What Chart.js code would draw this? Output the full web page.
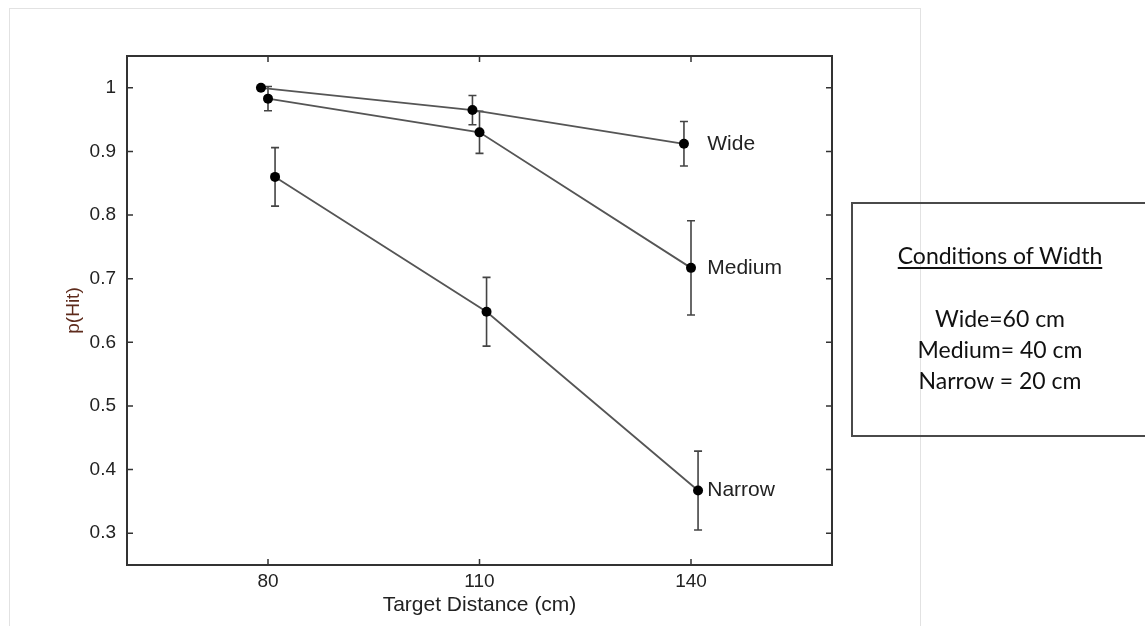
<!DOCTYPE html>
<html>
<head>
<meta charset="utf-8">
<title>p(Hit) by target distance</title>
<script src="https://cdn.jsdelivr.net/npm/chart.js@4.4.0/dist/chart.umd.min.js"></script>
<style>
  body { margin: 0; background: #fff; }
  #wrap { position: relative; width: 1145px; height: 626px; overflow: hidden; }
  #frame { position: absolute; left: 9px; top: 8px; width: 910px; height: 700px; border: 1px solid #e2e2e2; }
  #plot { position: absolute; left: 0; top: 0; }
  #cond {
    position: absolute; left: 851px; top: 202px; width: 300px; height: 235px;
    border: 2px solid #4a4a4a; box-sizing: border-box;
    font-family: Lato, "Open Sans", sans-serif; font-size: 23px; color: #111;
  }
  #cond .head { position: absolute; left: 0; width: 294px; top: 37px; text-align: center; text-decoration: underline; text-underline-offset: 3px; }
  #cond .rows { position: absolute; left: 0; width: 294px; top: 99px; text-align: center; line-height: 31px; }
</style>
</head>
<body>
<div id="wrap">
  <div id="frame"></div>
  <canvas id="plot" width="1145" height="626"></canvas>
  <div id="cond">
    <div class="head">Conditions of Width</div>
    <div class="rows">Wide=60 cm<br>Medium= 40 cm<br>Narrow = 20 cm</div>
  </div>
</div>
<script>
// target distances (cm) and tick values
const xTicks = [80, 110, 140];
const yTicks = [0.3, 0.4, 0.5, 0.6, 0.7, 0.8, 0.9, 1.0];

// each width condition is nudged sideways a little so the bars don't overlap
const wideX = [79, 109, 139];
const wideP = [1.0, 0.965, 0.912];
const wideErr = [0, 0.023, 0.035];

const mediumX = [80, 110, 140];
const mediumP = [0.983, 0.930, 0.717];
const mediumErr = [0.019, 0.033, 0.074];

const narrowX = [81, 111, 141];
const narrowP = [0.860, 0.648, 0.367];
const narrowErr = [0.046, 0.054, 0.062];

const seriesNames = ['Wide', 'Medium', 'Narrow'];
const labelX = 142.3;

const FONT = '"Liberation Sans", Arial, sans-serif';

const toPoints = (xs, ys) => xs.map((x, i) => ({x: x, y: ys[i]}));
const errs = [wideErr, mediumErr, narrowErr];

const makeSet = (name, xs, ys) => ({
  label: name,
  data: toPoints(xs, ys),
  showLine: true,
  borderColor: '#555',
  borderWidth: 1.8,
  pointRadius: 5,
  pointBackgroundColor: '#000',
  pointBorderColor: '#000',
  pointBorderWidth: 0,
  tension: 0
});

// error bars under the markers
const errorBars = {
  id: 'errorBars',
  beforeDatasetsDraw(chart) {
    const ctx = chart.ctx;
    const xs = chart.scales.x, ys = chart.scales.y;
    ctx.save();
    ctx.strokeStyle = '#444';
    ctx.lineWidth = 1.6;
    chart.data.datasets.forEach((ds, d) => {
      ds.data.forEach((p, i) => {
        const e = errs[d][i];
        if (!e) return;
        const px = xs.getPixelForValue(p.x);
        const top = ys.getPixelForValue(p.y + e);
        const bot = ys.getPixelForValue(p.y - e);
        ctx.beginPath();
        ctx.moveTo(px, top); ctx.lineTo(px, bot);
        ctx.moveTo(px - 4, top); ctx.lineTo(px + 4, top);
        ctx.moveTo(px - 4, bot); ctx.lineTo(px + 4, bot);
        ctx.stroke();
      });
    });
    ctx.restore();
  }
};

// box around the plot, inward ticks and the end-of-line names
const boxAndNames = {
  id: 'boxAndNames',
  afterDraw(chart) {
    const ctx = chart.ctx;
    const a = chart.chartArea;
    const xs = chart.scales.x, ys = chart.scales.y;
    ctx.save();
    ctx.strokeStyle = '#333';
    ctx.lineWidth = 2;
    ctx.strokeRect(a.left, a.top, a.right - a.left, a.bottom - a.top);
    ctx.beginPath();
    ctx.lineWidth = 1.5;
    yTicks.forEach(v => {
      const py = ys.getPixelForValue(v);
      ctx.moveTo(a.left, py); ctx.lineTo(a.left + 6, py);
      ctx.moveTo(a.right, py); ctx.lineTo(a.right - 6, py);
    });
    xTicks.forEach(v => {
      const px = xs.getPixelForValue(v);
      ctx.moveTo(px, a.bottom); ctx.lineTo(px, a.bottom - 6);
      ctx.moveTo(px, a.top); ctx.lineTo(px, a.top + 6);
    });
    ctx.stroke();

    ctx.fillStyle = '#222';
    ctx.font = '21px ' + FONT;
    ctx.textBaseline = 'middle';
    ctx.textAlign = 'left';
    chart.data.datasets.forEach((ds, d) => {
      const last = ds.data[ds.data.length - 1];
      ctx.fillText(seriesNames[d], xs.getPixelForValue(labelX), ys.getPixelForValue(last.y));
    });
    ctx.restore();
  }
};

new Chart(document.getElementById('plot'), {
  type: 'scatter',
  data: {
    datasets: [
      makeSet('Wide', wideX, wideP),
      makeSet('Medium', mediumX, mediumP),
      makeSet('Narrow', narrowX, narrowP)
    ]
  },
  options: {
    responsive: false,
    animation: false,
    layout: { padding: { left: 0, top: 56, right: 313, bottom: 0 } },
    plugins: { legend: { display: false }, tooltip: { enabled: false } },
    scales: {
      x: {
        type: 'linear',
        min: 60,
        max: 160,
        grid: { display: false, drawTicks: false },
        border: { display: false },
        afterBuildTicks: s => { s.ticks = xTicks.map(v => ({value: v})); },
        afterFit: s => { s.height = 61; },
        ticks: {
          color: '#222',
          padding: 5,
          font: { family: FONT, size: 19 },
          callback: v => String(v)
        },
        title: {
          display: true,
          text: 'Target Distance (cm)',
          color: '#222',
          font: { family: FONT, size: 21 },
          padding: { top: 0, bottom: 8 }
        }
      },
      y: {
        type: 'linear',
        min: 0.25,
        max: 1.05,
        grid: { display: false, drawTicks: false },
        border: { display: false },
        afterBuildTicks: s => { s.ticks = yTicks.map(v => ({value: v})); },
        afterFit: s => { s.width = 127; },
        ticks: {
          color: '#222',
          padding: 11,
          font: { family: FONT, size: 19 },
          callback: v => String(Math.round(v * 10) / 10)
        },
        title: {
          display: true,
          text: 'p(Hit)',
          color: '#5e2b1c',
          font: { family: FONT, size: 19 },
          padding: { top: 62, bottom: 0 }
        }
      }
    }
  },
  plugins: [errorBars, boxAndNames]
});
</script>
</body>
</html>
